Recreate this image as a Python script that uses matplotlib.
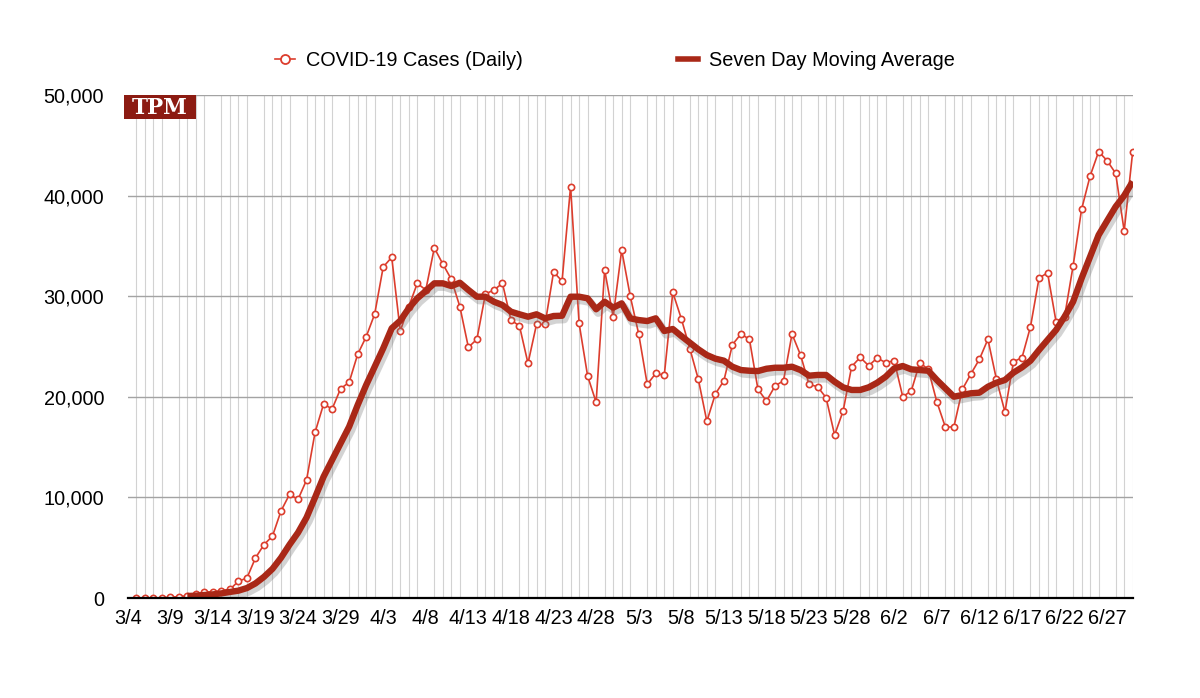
import matplotlib
matplotlib.use("Agg")
import matplotlib.pyplot as plt
import matplotlib.patheffects as pe
from matplotlib.lines import Line2D
from matplotlib.patches import Rectangle
import numpy as np

plt.rcParams['font.family'] = ['Liberation Sans', 'DejaVu Sans']

# Daily new cases, 3/4 .. 6/29
daily_cases = [
    0, 0, 30, 0, 100, 130, 230, 350, 600, 600, 730, 860, 1660, 1990, 3980, 5300,
    6160, 8650, 10300, 9800, 11730, 16470,
    19280, 18790, 20810, 21440, 24220, 25970, 28230, 32900, 33870, 26540, 28960,
    31280, 30620, 34800, 33200, 31680, 28960, 24920, 25720,
    30220, 30620, 31280, 27630, 27040, 23330, 27200, 27200, 32400, 31510, 40890,
    27300, 22070, 19450, 32600, 27960, 34590, 30020, 26240,
    21240, 22330, 22130, 30380, 27770, 24800, 21740, 17560, 20280, 21600, 25180,
    26240, 25720, 20740, 19580, 21070, 21600, 26240, 24150, 21240,
    21000, 19910, 16200, 18590, 23000, 23920, 23090, 23860, 23390, 23590, 20010,
    20580, 23390, 22730, 19510, 17000, 17000, 20740, 22270, 23730,
    25720, 21740, 18490, 23490, 23890, 26970, 31780, 32340, 27470, 27960, 33000,
    38640, 41950, 44370, 43470, 42210, 36480, 44370,
]

# Seven day moving average (starts on the 7th day)
moving_avg = [None] * 6 + [
    200, 230, 300, 360, 460, 600, 730, 990, 1450, 2100, 2900, 4000, 5300, 6500,
    8000, 10000,
    12060, 13720, 15380, 17030, 19180, 21170, 22990, 24820, 26810, 27570, 28800,
    29790, 30520, 31280, 31280, 31010, 31340, 30620, 29950,
    29950, 29450, 29120, 28460, 28200, 27960, 28200, 27800, 28030, 28060, 29950,
    29950, 29790, 28700, 29450, 28860, 29290, 27800, 27630,
    27530, 27800, 26540, 26740, 26040, 25380, 24720, 24150, 23790, 23590, 22990,
    22660, 22590, 22560, 22790, 22890, 22890, 22990, 22660, 22100,
    22170, 22170, 21500, 20940, 20680, 20680, 20940, 21400, 22000, 22830, 23060,
    22730, 22660, 22590, 21670, 20840, 20010, 20180, 20350, 20410,
    21000, 21400, 21670, 22400, 22930, 23590, 24650, 25650, 26640, 27960, 29450,
    31780, 33930, 36080, 37500, 38900, 40000, 41400,
]

x_labels = ['3/4', '3/9', '3/14', '3/19', '3/24', '3/29', '4/3', '4/8', '4/13',
            '4/18', '4/23', '4/28', '5/3', '5/8', '5/13', '5/18', '5/23', '5/28',
            '6/2', '6/7', '6/12', '6/17', '6/22', '6/27']
y_ticks = [0, 10000, 20000, 30000, 40000, 50000]
y_labels = ['0', '10,000', '20,000', '30,000', '40,000', '50,000']

n = len(daily_cases)
x = np.arange(n)
ma = np.array([np.nan if v is None else v for v in moving_avg], dtype=float)

W, H = 1200, 698
fig = plt.figure(figsize=(W / 100, H / 100), dpi=100)
ax = fig.add_axes([127.7 / W, 1 - 598 / H, (1132.7 - 127.7) / W, (598 - 95) / H])

thin_color = '#dc3d2d'
thick_color = '#a92817'

ax.plot(x, daily_cases, color=thin_color, lw=1.2, marker='o', markersize=4.5,
        markerfacecolor='white', markeredgecolor=thin_color, markeredgewidth=1.2,
        zorder=3)
ax.plot(x, ma, color=thick_color, lw=4.6, solid_capstyle='butt', zorder=4,
        path_effects=[pe.SimpleLineShadow(offset=(1.5, -2.5), shadow_color='#707070',
                                          alpha=0.3, linewidth=6),
                      pe.Normal()])

ax.set_xlim(-1, n - 1)
ax.set_ylim(0, 50000)

ax.set_xticks(np.arange(-1, -1 + 5 * len(x_labels), 5))
ax.set_xticklabels(x_labels, fontsize=14.3)
ax.set_xticks(np.arange(-1, n), minor=True)
ax.set_yticks(y_ticks)
ax.set_yticklabels(y_labels, fontsize=14.3)

ax.tick_params(axis='x', which='both', length=0, pad=8)
ax.tick_params(axis='y', which='both', length=0, pad=17)

ax.grid(False)
ax.xaxis.grid(True, which='minor', color='#d2d2d2', lw=0.8)
ax.xaxis.grid(False, which='major')
ax.yaxis.grid(True, which='major', color='#a3a3a3', lw=1.0)
ax.set_axisbelow(True)

for s in ['top', 'right', 'left']:
    ax.spines[s].set_visible(False)
ax.spines['bottom'].set_color('black')
ax.spines['bottom'].set_linewidth(1.6)
ax.spines['bottom'].set_zorder(5)

# TPM logo
fig.patches.append(Rectangle((124 / W, 1 - 119 / H), 72 / W, 24 / H,
                             transform=fig.transFigure, facecolor='#8c1b12',
                             edgecolor='none', zorder=10))
fig.text(160 / W, 1 - 107.5 / H, 'TPM', color='white', fontsize=15.5,
         fontweight='bold', family='DejaVu Serif', ha='center', va='center',
         zorder=11)

handles = [
    Line2D([], [], color=thin_color, lw=1.2, marker='o', markersize=6.5,
           markerfacecolor='white', markeredgecolor=thin_color, markeredgewidth=1.3),
    Line2D([], [], color=thick_color, lw=4.0),
]
fig.legend(handles, ['COVID-19 Cases (Daily)', 'Seven Day Moving Average'],
           loc='center', bbox_to_anchor=(615 / W, 1 - 60.5 / H), ncol=2,
           frameon=False, handlelength=1.0, handletextpad=0.58,
           columnspacing=7.8, fontsize=14.3, borderpad=0)

fig.savefig('out.png', dpi=100)
